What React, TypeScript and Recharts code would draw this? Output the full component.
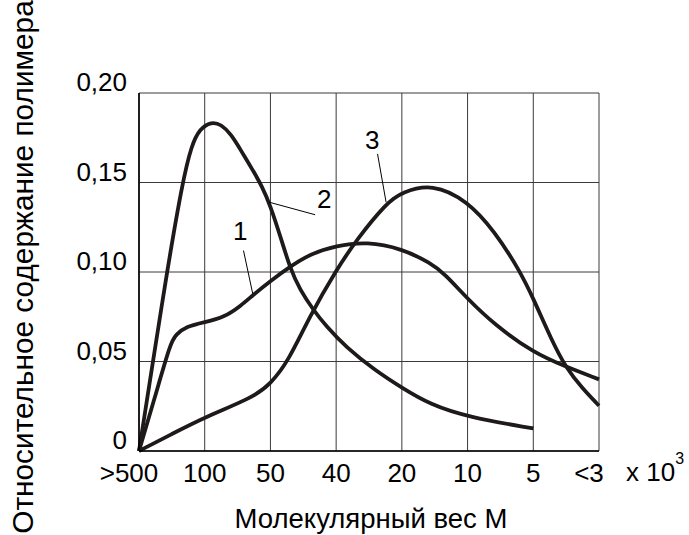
import React from 'react';
import { LineChart, Line, XAxis, YAxis, CartesianGrid, ReferenceLine, ReferenceDot } from 'recharts';

// Position along the molecular-weight axis (0 = ">500" ... 7 = "<3")
const xTickPositions = [0, 1, 2, 3, 4, 5, 6, 7];
const xTickLabels = ['>500', '100', '50', '40', '20', '10', '5', '<3'];
const yTicks = [0, 0.05, 0.1, 0.15, 0.2];
const yTickLabels = ['0', '0,05', '0,10', '0,15', '0,20'];

// Curve 1
const curve1: [number, number][] = [
  [0, 0], [0.25, 0.031], [0.48, 0.0605], [0.56, 0.065], [0.72, 0.0696], [1.0, 0.072],
  [1.29, 0.0745], [1.56, 0.0814], [1.73, 0.087], [2.0, 0.095], [2.3, 0.103], [2.6, 0.11],
  [3.0, 0.1147], [3.47, 0.117], [4.0, 0.113], [4.44, 0.105], [4.65, 0.099], [5.0, 0.085],
  [5.41, 0.0706], [6.0, 0.0549], [6.5, 0.047], [7.0, 0.04],
];
// Curve 2
const curve2: [number, number][] = [
  [0, 0], [0.2, 0.047], [0.425, 0.1], [0.66, 0.15], [0.8, 0.171], [0.925, 0.18],
  [1.1, 0.184], [1.25, 0.1825], [1.4, 0.177], [1.55, 0.168], [1.73, 0.157], [1.87, 0.148],
  [2.0, 0.137], [2.15, 0.12], [2.3, 0.102], [2.45, 0.09], [2.65, 0.079], [2.84, 0.07],
  [3.15, 0.058], [3.58, 0.0454], [4.0, 0.0353], [4.43, 0.026], [5.0, 0.019], [6.0, 0.0126],
];
// Curve 3
const curve3: [number, number][] = [
  [0, 0], [0.5, 0.0095], [1.0, 0.0189], [1.73, 0.0298], [2.0, 0.0374], [2.27, 0.05],
  [2.6, 0.0755], [3.0, 0.101], [3.31, 0.118], [3.77, 0.1387], [4.0, 0.1445], [4.46, 0.1495],
  [5.0, 0.1398], [5.41, 0.1228], [5.79, 0.101], [6.0, 0.0853], [6.28, 0.0618], [6.5, 0.0463],
  [6.74, 0.0353], [7.0, 0.0253],
];

// Curve annotations
const annotationNames = ['1', '2', '3'];
const annotationLabelPos: [number, number][] = [[1.54, 0.1228], [2.82, 0.141], [3.55, 0.174]];
const leaderStart: [number, number][] = [[1.59, 0.112], [1.98, 0.139], [3.63, 0.166]];
const leaderEnd: [number, number][] = [[1.73, 0.088], [2.68, 0.132], [3.76, 0.139]];

const toData = (pts: [number, number][]) => pts.map(([x, y]) => ({ x, y }));
const series = [toData(curve1), toData(curve2), toData(curve3)];

const FONT = '"Liberation Sans", Arial, sans-serif';
const INK = '#1e1a1a';

const XTick = (props: any) => {
  const { x, y, payload } = props;
  const label = xTickLabels[xTickPositions.indexOf(payload.value)] ?? '';
  const shift = /^[<>]/.test(label) ? -10 : 0;
  return (
    <text x={x + shift} y={y + 30.5} textAnchor="middle" fontSize={26} fontFamily={FONT} fill="#000">
      {label}
    </text>
  );
};

const YTick = (props: any) => {
  const { x, y, payload } = props;
  const label = yTickLabels[yTicks.indexOf(payload.value)] ?? '';
  return (
    <text x={x} y={y - 2} textAnchor="end" fontSize={26} fontFamily={FONT} fill="#000">
      {label}
    </text>
  );
};

export default function App() {
  return (
    <div style={{ position: 'absolute', left: 0, top: 0, width: 689, height: 535, background: '#fff' }}>
      <LineChart width={689} height={535} margin={{ top: 93, right: 90, bottom: 44, left: 79 }}>
        <CartesianGrid stroke="#3a3a3a" strokeWidth={1} />
        <XAxis
          type="number"
          dataKey="x"
          domain={[0, 7]}
          ticks={xTickPositions}
          height={40}
          tickSize={0}
          tickMargin={0}
          tick={<XTick />}
          axisLine={{ stroke: '#000', strokeWidth: 1.6 }}
          tickLine={false}
          allowDuplicatedCategory={false}
        />
        <YAxis
          type="number"
          domain={[0, 0.2]}
          ticks={yTicks}
          width={60}
          tickSize={0}
          tickMargin={12}
          tick={<YTick />}
          axisLine={{ stroke: '#000', strokeWidth: 1.6 }}
          tickLine={false}
        />
        {series.map((d, i) => (
          <Line
            key={i}
            data={d}
            dataKey="y"
            type="basis"
            stroke={INK}
            strokeWidth={3.8}
            dot={false}
            activeDot={false}
            isAnimationActive={false}
          />
        ))}
        {annotationNames.map((n, i) => (
          <ReferenceLine
            key={'l' + n}
            segment={[
              { x: leaderStart[i][0], y: leaderStart[i][1] },
              { x: leaderEnd[i][0], y: leaderEnd[i][1] },
            ]}
            stroke="#000"
            strokeWidth={1}
            ifOverflow="visible"
          />
        ))}
        {annotationNames.map((n, i) => (
          <ReferenceDot
            key={'d' + n}
            x={annotationLabelPos[i][0]}
            y={annotationLabelPos[i][1]}
            r={0}
            fill="none"
            stroke="none"
            ifOverflow="visible"
            label={{ value: n, position: 'center', fontSize: 26, fill: '#000', fontFamily: FONT }}
          />
        ))}
      </LineChart>
      <svg
        width={689}
        height={535}
        style={{ position: 'absolute', left: 0, top: 0, pointerEvents: 'none' }}
      >
        <text
          x={33}
          y={267}
          transform="rotate(-90, 33, 267)"
          textAnchor="middle"
          fontSize={29.8}
          fontFamily={FONT}
          fill="#000"
        >
          Относительное содержание полимера
        </text>
        <text x={371} y={528} textAnchor="middle" fontSize={27.5} fontFamily={FONT} fill="#000">
          Молекулярный вес М
        </text>
        <text x={626} y={481} fontSize={26} fontFamily={FONT} fill="#000">
          x 10
          <tspan dy={-17} fontSize={16}>3</tspan>
        </text>
      </svg>
    </div>
  );
}
